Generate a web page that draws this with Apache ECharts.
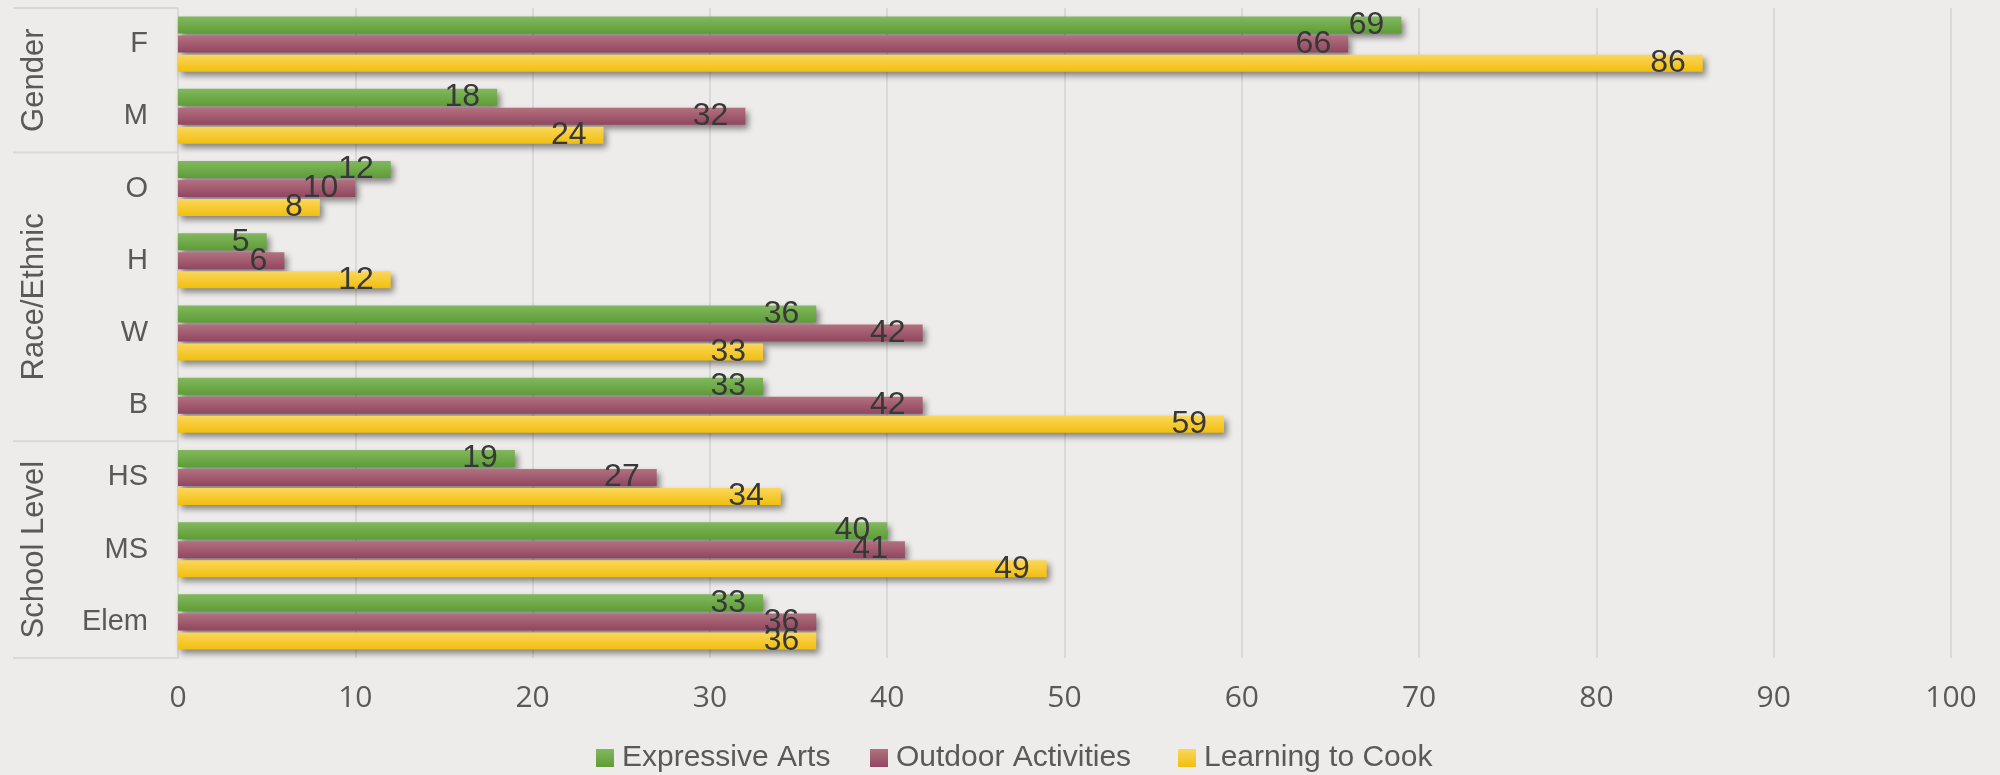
<!DOCTYPE html>
<html><head><meta charset="utf-8">
<script src="https://cdn.jsdelivr.net/npm/echarts@6/dist/echarts.min.js"></script>
<style>html,body{margin:0;padding:0;background:#edecea;}#c{width:2000px;height:775px;}</style>
</head><body><div id="c"></div>
<script>
const categories = ['F','M','O','H','W','B','HS','MS','Elem'];
const groups = [
  {name:'Gender', from:0, to:1},
  {name:'Race/Ethnic', from:2, to:5},
  {name:'School Level', from:6, to:8}
];
const seriesNames = ['Expressive Arts','Outdoor Activities','Learning to Cook'];
const expressiveArts = [69,18,12,5,36,33,19,40,33];
const outdoorActivities = [66,32,10,6,42,42,27,41,36];
const learningToCook = [86,24,8,12,33,59,34,49,36];
const xTicks = {min:0, max:100, interval:10};

const grads = [
  ['#82b85e','#5e9d37'],
  ['#b2717f','#914660'],
  ['#fbd65a','#f1bf0f']
];
function grad(c){return new echarts.graphic.LinearGradient(0,0,0,1,[{offset:0,color:c[0]},{offset:1,color:c[1]}]);}
const values = [expressiveArts, outdoorActivities, learningToCook];
const legendLeft = [596, 870, 1178];

const chart = echarts.init(document.getElementById('c'));
const FONT = "'Liberation Sans', Arial, sans-serif";
const option = {
  backgroundColor:'#edecea',
  animation:false,
  grid:{left:178, right:49, top:8, bottom:117, containLabel:false},
  xAxis:{type:'value', min:xTicks.min, max:xTicks.max, interval:xTicks.interval,
    axisLine:{show:false}, axisTick:{show:false},
    splitLine:{lineStyle:{color:'#d9d9d9', width:2}},
    axisLabel:{color:'#595959', fontSize:30, fontFamily:"'Open Sans', sans-serif", margin:25}},
  yAxis:{type:'category', data:categories, inverse:true,
    axisLine:{show:true, lineStyle:{color:'#d9d9d9', width:2}},
    axisTick:{show:false},
    axisLabel:{color:'#595959', fontSize:29, fontFamily:FONT, margin:30}},
  legend: seriesNames.map((n,i)=>({left:legendLeft[i], top:743, padding:0, itemWidth:18, itemHeight:18, icon:'rect',
    textStyle:{color:'#595959', fontSize:30, fontFamily:FONT, padding:[0,0,0,3]},
    data:[n]})),
  series: seriesNames.map((n,i)=>({
    name:n, type:'bar', data:values[i], barWidth:17, barGap:'12%',
    itemStyle:{color:grad(grads[i]), shadowColor:'rgba(0,0,0,0.45)', shadowBlur:6, shadowOffsetX:3, shadowOffsetY:4},
    label:{show:true, position:'insideRight', distance:17, color:'#383838', fontSize:32, fontFamily:FONT}
  }))
};
chart.setOption(option);

const band = (chart.convertToPixel({yAxisIndex:0}, categories[1]) - chart.convertToPixel({yAxisIndex:0}, categories[0]));
const gElems = [];
const lineStyle = {stroke:'#d9d9d9', lineWidth:2};
const x0 = 13, x1 = 177;
groups.forEach((g,gi)=>{
  const yTop = chart.convertToPixel({yAxisIndex:0}, categories[g.from]) - band/2;
  const yBot = chart.convertToPixel({yAxisIndex:0}, categories[g.to]) + band/2;
  if (gi===0) gElems.push({type:'line', shape:{x1:x0,y1:yTop,x2:x1,y2:yTop}, style:lineStyle});
  gElems.push({type:'line', shape:{x1:x0,y1:yBot,x2:x1,y2:yBot}, style:lineStyle});
  gElems.push({type:'text', x:34, y:(yTop+yBot)/2, rotation:Math.PI/2,
    style:{text:g.name, fill:'#595959', font:"31px "+FONT, align:'center', verticalAlign:'middle'}});
});
chart.setOption({graphic:gElems});
</script></body></html>
